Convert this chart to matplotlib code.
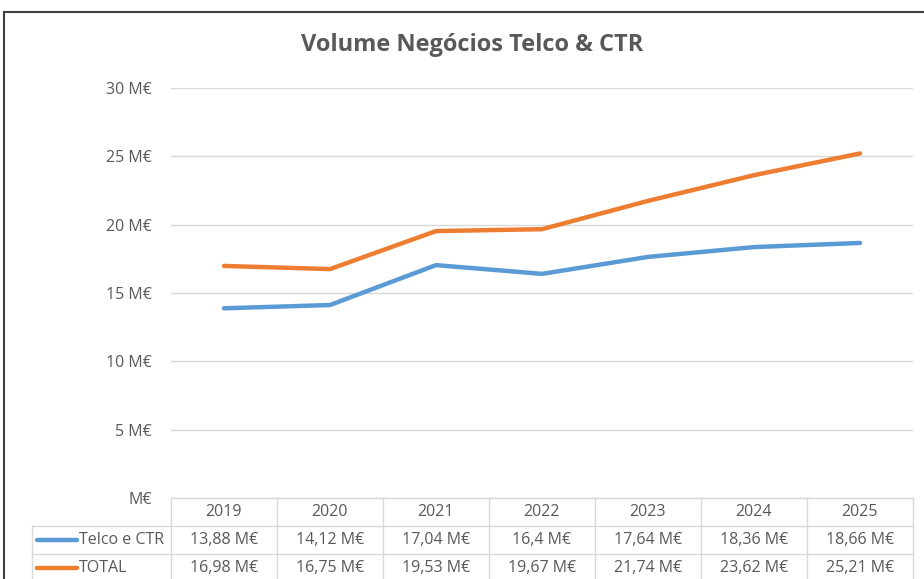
import matplotlib.pyplot as plt
from matplotlib.patches import Rectangle
from matplotlib.transforms import blended_transform_factory

plt.rcParams['font.family'] = ['Open Sans', 'DejaVu Sans']

years = ['2019', '2020', '2021', '2022', '2023', '2024', '2025']
telco = [13.88, 14.12, 17.04, 16.4, 17.64, 18.36, 18.66]
total = [16.98, 16.75, 19.53, 19.67, 21.74, 23.62, 25.21]
series_names = ['Telco e CTR', 'TOTAL']
yticks = [0, 5, 10, 15, 20, 25, 30]

blue = '#5B9BD5'
orange = '#ED7D31'
grey_text = '#595959'
grid_c = '#D9D9D9'

W, H = 924, 579
fig = plt.figure(figsize=(W / 100, H / 100), dpi=100)

# chart border (cut off on the right and bottom in the reference)
fig.patches.append(Rectangle((4 / W, -0.1), 1.2, (H - 12) / H + 0.1, transform=fig.transFigure,
                             fill=False, edgecolor='#404040', linewidth=1.5))

ax = fig.add_axes([171 / W, 81 / H, (913 - 171) / W, (498 - 88) / H])
x = list(range(len(years)))
ax.plot(x, telco, color=blue, lw=3.2, solid_capstyle='round', zorder=3)
ax.plot(x, total, color=orange, lw=3.2, solid_capstyle='round', zorder=3)

ax.set_xlim(-0.5, len(years) - 0.5)
ax.set_ylim(0, 30)
ax.set_yticks(yticks)
ax.set_yticklabels([f'{v} M€' if v else 'M€' for v in yticks], color=grey_text, fontsize=11.5)
ax.yaxis.grid(True, color=grid_c, lw=1)
ax.set_axisbelow(True)
ax.tick_params(axis='y', length=0, pad=14)
ax.set_xticks([])
for s in ax.spines.values():
    s.set_visible(False)

fig.text(472 / W, 1 - 45 / H, 'Volume Negócios Telco & CTR', ha='center', va='center',
         fontsize=17, fontweight='bold', color=grey_text)

# data table below the plot
tr = blended_transform_factory(ax.transData, ax.transAxes)
row_h = 28 / (498 - 88)
nrows = 3
left_cell = -0.5 - (171 - 32) / ((913 - 171) / len(years))
for r in range(nrows + 1):
    yy = -r * row_h
    x0 = -0.5 if r == 0 else left_cell
    ax.plot([x0, len(years) - 0.5], [yy, yy], color=grid_c, lw=1, transform=tr, clip_on=False)
for i in range(len(years) + 1):
    ax.plot([i - 0.5, i - 0.5], [0, -nrows * row_h], color=grid_c, lw=1, transform=tr, clip_on=False)
ax.plot([left_cell, left_cell], [-row_h, -nrows * row_h], color=grid_c, lw=1, transform=tr, clip_on=False)

for i, yr in enumerate(years):
    ax.text(i, -0.5 * row_h, yr, ha='center', va='center', transform=tr, color=grey_text, fontsize=11.5)
rows = [telco, total]
colors = [blue, orange]
for r, (vals, c, name) in enumerate(zip(rows, colors, series_names)):
    yc = -(r + 1.5) * row_h
    for i, v in enumerate(vals):
        lab = f'{v:g}'.replace('.', ',') + ' M€'
        ax.text(i, yc, lab, ha='center', va='center', transform=tr, color=grey_text, fontsize=11.5)
    ax.plot([left_cell + 0.05, left_cell + 0.42], [yc, yc], color=c, lw=3.2, solid_capstyle='round',
            transform=tr, clip_on=False)
    ax.text(left_cell + 0.44, yc, name, ha='left', va='center', transform=tr, color=grey_text, fontsize=11.5)

fig.savefig('out.png', dpi=100)
